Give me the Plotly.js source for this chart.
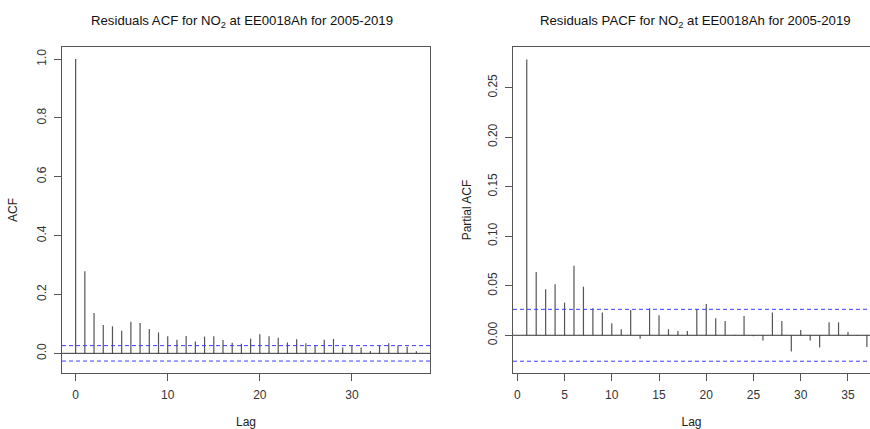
<!DOCTYPE html>
<html>
<head>
<meta charset="utf-8">
<script src="https://cdn.plot.ly/plotly-3.0.1.min.js"></script>
<style>html,body{margin:0;padding:0;background:#fff;}#chart{width:870px;height:429px;}</style>
</head>
<body>
<div id="chart"></div>
<script>
// Data
const acfLags = [0,1,2,3,4,5,6,7,8,9,10,11,12,13,14,15,16,17,18,19,20,21,22,23,24,25,26,27,28,29,30,31,32,33,34,35,36,37];
const acfValues = [1.0,0.279,0.137,0.096,0.092,0.077,0.107,0.103,0.083,0.071,0.058,0.046,0.059,0.040,0.057,0.058,0.045,0.036,0.033,0.050,0.065,0.058,0.053,0.037,0.048,0.034,0.026,0.046,0.049,0.020,0.027,0.020,0.008,0.027,0.034,0.027,0.022,0.007];
const pacfLags = [1,2,3,4,5,6,7,8,9,10,11,12,13,14,15,16,17,18,19,20,21,22,23,24,25,26,27,28,29,30,31,32,33,34,35,36,37];
const pacfValues = [0.2786,0.0639,0.0464,0.0515,0.033,0.0703,0.0491,0.0273,0.0229,0.0121,0.0061,0.0256,-0.0034,0.0273,0.0202,0.0061,0.0044,0.0044,0.0266,0.0316,0.0172,0.0145,0.0004,0.0195,-0.001,-0.0054,0.0229,0.0145,-0.0165,0.0054,-0.0054,-0.0124,0.0131,0.0131,0.0034,-0.0007,-0.0118];
const ciLimit = 0.0262;
const acfTitle = 'Residuals ACF for NO<sub>2</sub> at EE0018Ah for 2005-2019';
const pacfTitle = 'Residuals PACF for NO<sub>2</sub> at EE0018Ah for 2005-2019';
const acfXTicks = [0,10,20,30];
const acfYTicks = [0,0.2,0.4,0.6,0.8,1.0];
const pacfXTicks = [0,5,10,15,20,25,30,35];
const pacfYTicks = [0,0.05,0.10,0.15,0.20,0.25];

const FONT = 'Liberation Sans, Arial, sans-serif';

function spikes(lags, vals, xa, ya) {
  const x = [], y = [];
  lags.forEach((l, i) => { x.push(l, l, null); y.push(0, vals[i], null); });
  return {x, y, xaxis: xa, yaxis: ya, type: 'scatter', mode: 'lines',
          line: {color: '#555', width: 1.2}, hoverinfo: 'skip', showlegend: false};
}

const axisCommon = {
  showgrid: false, zeroline: false, showline: true, linecolor: '#555', linewidth: 1,
  ticks: 'outside', ticklen: 7, tickcolor: '#555', tickwidth: 1,
  tickfont: {family: FONT, size: 12, color: '#333'},
  automargin: false, fixedrange: true
};
const titleFont = {family: FONT, size: 12, color: '#222'};

const data = [spikes(acfLags, acfValues, 'x', 'y'), spikes(pacfLags, pacfValues, 'x2', 'y2')];

function hline(xref, yref, y, color, dash) {
  return {type: 'line', xref: xref + ' domain', yref: yref, x0: 0, x1: 1, y0: y, y1: y,
          line: {color: color, width: 1, dash: dash}, layer: 'above'};
}
const blue = 'rgb(60,60,255)';

const layout = {
  width: 870, height: 429,
  margin: {l: 0, r: 0, t: 0, b: 0},
  paper_bgcolor: '#fff', plot_bgcolor: '#fff',
  font: {family: FONT, size: 12, color: '#222'}, showlegend: false,
  xaxis: Object.assign({}, axisCommon, {domain: [62/870, 430/870], range: [-1.48, 38.48],
    tickvals: acfXTicks, mirror: true, anchor: 'y', ticklabelstandoff: 4,
    title: {text: 'Lag', font: titleFont, standoff: 16}}),
  yaxis: Object.assign({}, axisCommon, {domain: [1 - 373/429, 1 - 47/429], range: [-0.0668, 1.0411],
    tickvals: acfYTicks, tickformat: '.1f', tickangle: -90, mirror: true, anchor: 'x', ticklabelstandoff: 3,
    title: {text: 'ACF', font: titleFont, standoff: 15}}),
  xaxis2: Object.assign({}, axisCommon, {domain: [513/870, 1], range: [-0.455, 37.33],
    tickvals: pacfXTicks, mirror: true, anchor: 'y2', ticklabelstandoff: 4,
    title: {text: 'Lag', font: titleFont, standoff: 16}}),
  yaxis2: Object.assign({}, axisCommon, {domain: [1 - 373/429, 1 - 47/429], range: [-0.0381, 0.2911],
    tickvals: pacfYTicks, tickformat: '.2f', tickangle: -90, anchor: 'x2', ticklabelstandoff: 3,
    title: {text: 'Partial ACF', font: titleFont, standoff: 12}}),
  shapes: [
    hline('x', 'y', 0, '#333', 'solid'),
    hline('x', 'y', ciLimit, blue, '4px,3px'),
    hline('x', 'y', -ciLimit, blue, '4px,3px'),
    hline('x2', 'y2', 0, '#333', 'solid'),
    hline('x2', 'y2', ciLimit, blue, '4px,3px'),
    hline('x2', 'y2', -ciLimit, blue, '4px,3px')
  ],
  annotations: [
    {text: acfTitle, xref: 'paper', yref: 'paper', x: 242/870, y: 1 - 21/429, xanchor: 'center', yanchor: 'middle',
     showarrow: false, font: {family: FONT, size: 13.2, color: '#111'}},
    {text: pacfTitle, xref: 'paper', yref: 'paper', x: (435 + 780/3)/870, y: 1 - 21/429, xanchor: 'center', yanchor: 'middle',
     showarrow: false, font: {family: FONT, size: 13.2, color: '#111'}}
  ]
};

Plotly.newPlot('chart', data, layout, {displayModeBar: false, staticPlot: true});
</script>
</body>
</html>
